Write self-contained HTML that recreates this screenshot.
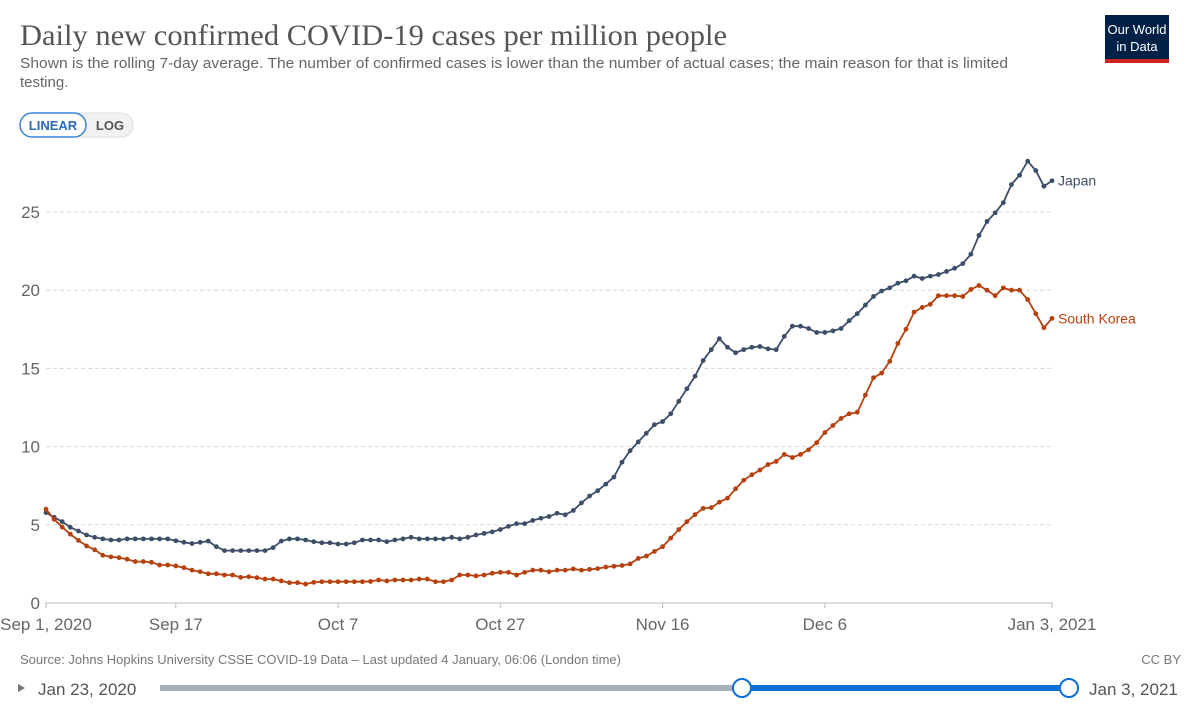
<!DOCTYPE html>
<html><head><meta charset="utf-8"><style>
html,body{margin:0;padding:0;background:#fff;width:1200px;height:710px;overflow:hidden}
svg{display:block}
</style></head><body>
<svg id="chart" width="1200" height="710" xmlns="http://www.w3.org/2000/svg" font-family="Liberation Sans, sans-serif">
<text x="20" y="45" font-family="Liberation Serif, serif" font-size="30" fill="#555" textLength="707" lengthAdjust="spacingAndGlyphs">Daily new confirmed COVID-19 cases per million people</text>
<text x="20" y="68" font-size="15" fill="#666" textLength="988" lengthAdjust="spacingAndGlyphs">Shown is the rolling 7-day average. The number of confirmed cases is lower than the number of actual cases; the main reason for that is limited</text>
<text x="20" y="87" font-size="15" fill="#666">testing.</text>
<g>
<rect x="20" y="113" width="113" height="24" rx="12" fill="#f2f2f2" stroke="#ddd"/>
<rect x="20" y="113" width="66" height="24" rx="12" fill="#fff" stroke="#3a86d2" stroke-width="1.5"/>
<text x="53" y="130" font-size="13" font-weight="bold" fill="#2a6bb8" text-anchor="middle">LINEAR</text>
<text x="110" y="130" font-size="13" font-weight="bold" fill="#555" text-anchor="middle">LOG</text>
</g>
<g>
<rect x="1105" y="15" width="64" height="48" fill="#002147"/>
<rect x="1105" y="59" width="64" height="4" fill="#ce261e"/>
<text x="1137" y="34" font-size="13" fill="#fff" text-anchor="middle">Our World</text>
<text x="1137" y="51" font-size="13" fill="#fff" text-anchor="middle">in Data</text>
</g>
<g id="grid"></g>
<g id="series"></g>
<text x="20" y="664" font-size="13" fill="#777">Source: Johns Hopkins University CSSE COVID-19 Data – Last updated 4 January, 06:06 (London time)</text>
<text x="1181" y="664" font-size="13" fill="#777" text-anchor="end">CC BY</text>
<g>
<path d="M18 684 L25 688 L18 692 Z" fill="#777"/>
<text x="38" y="695" font-size="17" fill="#555">Jan 23, 2020</text>
<rect x="160" y="685" width="582" height="6" fill="#aab0ba"/>
<rect x="742" y="685" width="327" height="6" fill="#0a6fd6"/>
<circle cx="742" cy="688" r="9" fill="#fff" stroke="#0a6fd6" stroke-width="2"/>
<circle cx="1069" cy="688" r="9" fill="#fff" stroke="#0a6fd6" stroke-width="2"/>
<text x="1089" y="695" font-size="17" fill="#555">Jan 3, 2021</text>
</g>
</svg>
<script>
const yTicks = [0, 5, 10, 15, 20, 25];
const xTickDays = [0, 16, 36, 56, 76, 96, 124];
const xTickLabels = ["Sep 1, 2020", "Sep 17", "Oct 7", "Oct 27", "Nov 16", "Dec 6", "Jan 3, 2021"];
const japan = [5.78,5.48,5.2,4.84,4.6,4.35,4.2,4.1,4.03,4.03,4.1,4.1,4.1,4.1,4.1,4.1,3.98,3.88,3.8,3.88,3.96,3.6,3.35,3.35,3.35,3.35,3.35,3.35,3.54,3.96,4.1,4.1,4.03,3.92,3.85,3.85,3.77,3.77,3.85,4.03,4.03,4.03,3.92,4.03,4.1,4.2,4.1,4.1,4.1,4.1,4.2,4.1,4.2,4.35,4.45,4.55,4.7,4.9,5.07,5.07,5.28,5.42,5.53,5.74,5.64,5.92,
6.4,6.84,7.18,7.6,8.05,9.0,9.74,10.3,10.85,11.4,11.6,12.1,12.9,13.7,14.5,15.5,16.2,16.9,16.35,16.0,16.2,16.35,16.4,16.25,16.2,17.05,17.7,17.7,17.55,17.3,17.3,17.4,17.55,18.05,18.5,19.05,19.6,19.95,20.15,20.45,20.6,20.9,20.75,20.9,21.0,21.2,21.4,21.7,22.3,23.5,24.4,24.95,25.6,26.75,27.35,28.25,27.65,26.65,27.0];
const southKorea = [6.0,5.35,4.85,4.4,4.0,3.65,3.4,3.05,2.95,2.9,2.8,2.65,2.65,2.6,2.43,2.43,2.37,2.26,2.1,2.0,1.87,1.87,1.79,1.79,1.64,1.68,1.62,1.53,1.53,1.41,1.3,1.3,1.21,1.32,1.36,1.36,1.36,1.36,1.36,1.36,1.38,1.47,1.41,1.47,1.47,1.47,1.53,1.53,1.36,1.36,1.47,1.79,1.79,1.73,1.79,1.9,1.96,1.96,1.79,1.96,2.1,2.1,2.0,2.1,2.1,2.18,
2.1,2.15,2.2,2.3,2.35,2.4,2.5,2.85,3.0,3.3,3.6,4.15,4.7,5.2,5.65,6.05,6.1,6.45,6.7,7.3,7.85,8.2,8.5,8.85,9.05,9.5,9.3,9.5,9.8,10.25,10.9,11.35,11.8,12.1,12.2,13.3,14.4,14.7,15.45,16.6,17.5,18.6,18.9,19.1,19.65,19.65,19.65,19.6,20.05,20.3,20.0,19.65,20.15,20.0,20.0,19.4,18.5,17.6,18.2];
const seriesNames = ["Japan", "South Korea"];

const NS = "http://www.w3.org/2000/svg";
const x0 = 46, x1 = 1052, y0 = 603, yPerUnit = 15.64, nDays = 124;
function xs(d){ return x0 + (x1 - x0) * d / nDays; }
function ys(v){ return y0 - v * yPerUnit; }
function mk(tag, attrs, parent){ const e = document.createElementNS(NS, tag); for (const k in attrs) e.setAttribute(k, attrs[k]); parent.appendChild(e); return e; }

const grid = document.getElementById('grid');
yTicks.forEach(v => {
  const y = ys(v);
  if (v > 0) {
    const l = mk('line', {x1: x0, x2: x1, y1: y, y2: y, stroke: '#d8d8d8', 'stroke-dasharray': '4,3'}, grid);
    
    
  }
  const t = mk('text', {x: 40, y: y + 6, 'font-size': 17, fill: '#666', 'text-anchor': 'end'}, grid);
  t.textContent = v;
  
  
});
const ax = mk('line', {x1: x0 - 1, x2: x1 + 1, y1: y0, y2: y0, stroke: '#bbb'}, grid);


xTickDays.forEach((d, i) => {
  const x = xs(d);
  const tk = mk('line', {x1: x, x2: x, y1: y0, y2: y0 + 5, stroke: '#bbb'}, grid);
  
  
  const t = mk('text', {x: x, y: 630, 'font-size': 17, fill: '#666', 'text-anchor': 'middle'}, grid);
  t.textContent = xTickLabels[i];
  
  
});

const sg = document.getElementById('series');
[[japan, '#3d4e69', 'japan'], [southKorea, '#b7410e', 'south-korea']].forEach(([data, col, key], si) => {
  const g = mk('g', {}, sg);
  
  
  const pts = data.map((v, d) => xs(d).toFixed(1) + ',' + ys(v).toFixed(1)).join(' ');
  const pl = mk('polyline', {points: pts, fill: 'none', stroke: col, 'stroke-width': 1.8, 'stroke-linejoin': 'round'}, g);
  
  
  data.forEach((v, d) => {
    const c = mk('circle', {cx: xs(d), cy: ys(v), r: 2.4, fill: col}, g);
    
    
  });
  const last = data[data.length - 1];
  const lb = mk('text', {x: xs(nDays) + 6, y: ys(last) + 5, 'font-size': 14, fill: col}, g);
  lb.textContent = seriesNames[si];
  
  
});
</script>
</body></html>
